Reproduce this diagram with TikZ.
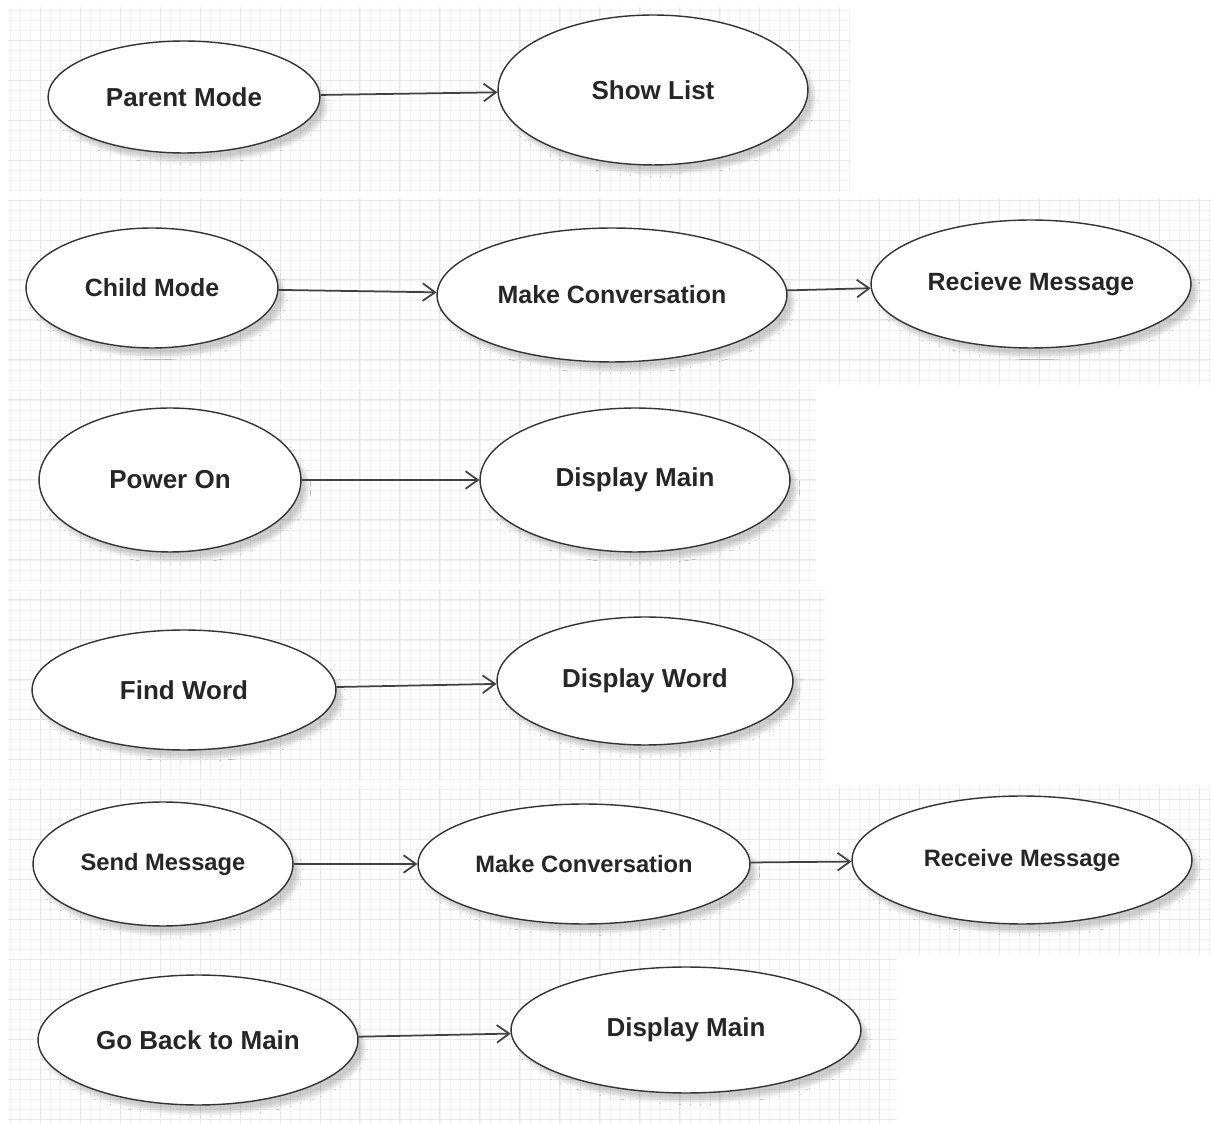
\documentclass[tikz,border=0pt]{standalone}
\usepackage{fontspec}
\setmainfont{Liberation Sans}
\usetikzlibrary{shapes.geometric,arrows.meta,shadows.blur}

\begin{document}
\begin{tikzpicture}[x=0.02cm,y=-0.02cm,
	usecase/.style={ellipse,draw=black!80,line width=0.8pt,fill=white,inner sep=0pt,text=black!85,
		font=\bfseries\fontsize{14.8}{16}\selectfont,
		blur shadow={shadow xshift=3.5pt,shadow yshift=-4.5pt,shadow blur steps=8,shadow opacity=20}},
	radii/.style 2 args={minimum width=#1*0.04cm,minimum height=#2*0.04cm},
	smaller/.style={font=\bfseries\fontsize{14.2}{16}\selectfont},
	smallest/.style={font=\bfseries\fontsize{13.5}{15}\selectfont},
	flow/.style={draw=black!75,line width=1pt,-{Straight Barb[length=7pt,width=10pt,line width=1pt]}},
	minorgrid/.style={draw=black!5,line width=0.4pt},
	majorgrid/.style={draw=black!9,line width=0.5pt}]
	\useasboundingbox (0,0) rectangle (1211,1124);
	\foreach \xa/\ya/\xb/\yb in {8/7/850/192, 8/198/1211/385, 8/388/816/584, 8/589/825/781, 8/786/1211/955, 8/958/897/1124}{
		\begin{scope}
			\clip (\xa,\ya) rectangle (\xb,\yb);
			\draw[minorgrid,step=0.2cm] (\xa,\ya) grid (\xb,\yb);
			\draw[majorgrid,step=0.8cm] (\xa,\ya) grid (\xb,\yb);
		\end{scope}
	}
	\node[usecase,radii={136}{56}] (parent) at (184,97) {Parent Mode};
	\node[usecase,radii={155}{75}] (showlist) at (653,90) {Show List};
	\draw[flow] (parent) -- (showlist);
	\node[usecase,smaller,radii={126}{60}] (child) at (152,288) {Child Mode};
	\node[usecase,smaller,radii={175}{67}] (convA) at (612,295) {Make Conversation};
	\node[usecase,smaller,radii={160}{64}] (recieve) at (1031,284) {Recieve Message};
	\draw[flow] (child) -- (convA);
	\draw[flow] (convA) -- (recieve);
	\node[usecase,radii={131}{72}] (power) at (170,480) {Power On};
	\node[usecase,radii={155}{72}] (mainA) at (635,480) {Display Main};
	\draw[flow] (power) -- (mainA);
	\node[usecase,radii={152}{60}] (find) at (184,690) {Find Word};
	\node[usecase,radii={148}{64}] (word) at (645,681) {Display Word};
	\draw[flow] (find) -- (word);
	\node[usecase,smallest,radii={130}{62}] (send) at (163,864) {Send Message};
	\node[usecase,smallest,radii={166}{60}] (convB) at (584,864) {Make Conversation};
	\node[usecase,smallest,radii={170}{64}] (receive) at (1022,860) {Receive Message};
	\draw[flow] (send) -- (convB);
	\draw[flow] (convB) -- (receive);
	\node[usecase,radii={160}{65}] (goback) at (198,1040) {Go Back to Main};
	\node[usecase,radii={175}{63}] (mainB) at (686,1030) {Display Main};
	\draw[flow] (goback) -- (mainB);
\end{tikzpicture}
\end{document}
